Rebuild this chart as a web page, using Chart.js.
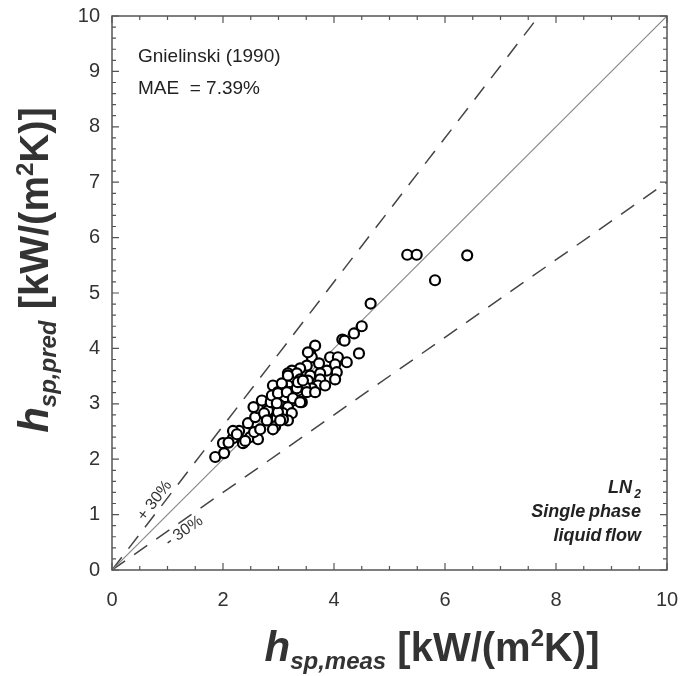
<!DOCTYPE html>
<html>
<head>
<meta charset="utf-8">
<script src="https://cdn.jsdelivr.net/npm/chart.js@4.4.1/dist/chart.umd.min.js"></script>
<style>
  body { margin: 0; background: #fff; }
  #grafico { display: block; }
</style>
</head>
<body>
<canvas id="grafico" width="696" height="676"></canvas>
<script>
// valores medidos (eixo x) e previstos (eixo y), kW/(m2K)
const hMedido = [
  5.32, 5.49, 6.40, 5.82, 4.66, 4.50, 4.36, 4.15, 4.19, 4.45,
  3.66, 3.57, 3.60, 3.93, 4.07, 4.23, 3.73, 4.02, 4.05, 4.02,
  3.87, 3.75, 3.75, 3.51, 3.39, 3.24, 3.17, 3.33, 3.57, 3.53,
  3.39, 3.71, 3.84, 3.60, 3.48, 3.33, 3.17, 3.06, 2.90, 2.99,
  3.21, 3.35, 3.51, 3.66, 2.94, 3.12, 3.26, 3.42, 2.85, 3.03,
  3.17, 2.76, 2.90, 3.08, 3.24, 2.79, 2.97, 3.17, 2.94, 1.86,
  2.02, 2.00, 2.18, 2.29, 2.18, 2.36, 2.49, 2.63, 2.56, 2.67,
  2.90, 2.45, 2.58, 2.63, 2.70, 2.55, 2.81, 2.86, 2.99, 3.08,
  3.03, 2.88, 2.99, 3.06, 3.15, 3.26, 3.39, 3.33, 3.35, 3.44,
  3.17, 2.74, 2.79, 2.97, 3.53, 2.10, 2.25, 2.40
];
const hPrevisto = [
  5.69, 5.69, 5.68, 5.23, 4.81, 4.40, 4.27, 4.16, 4.14, 3.91,
  4.05, 3.91, 3.84, 3.84, 3.84, 3.75, 3.73, 3.71, 3.57, 3.44,
  3.60, 3.55, 3.44, 3.69, 3.64, 3.60, 3.55, 3.55, 3.51, 3.42,
  3.44, 3.33, 3.33, 3.28, 3.30, 3.33, 3.33, 3.33, 3.33, 3.21,
  3.21, 3.24, 3.21, 3.21, 3.10, 3.12, 3.06, 3.03, 3.01, 2.97,
  2.94, 2.92, 2.88, 2.83, 2.83, 2.76, 2.74, 2.70, 2.59, 2.04,
  2.11, 2.29, 2.38, 2.51, 2.51, 2.29, 2.40, 2.36, 2.49, 2.54,
  2.54, 2.65, 2.76, 2.92, 3.06, 2.94, 2.88, 3.03, 2.85, 2.72,
  2.70, 3.15, 3.19, 3.37, 3.21, 3.10, 3.03, 3.28, 3.39, 3.42,
  3.51, 2.83, 2.70, 3.01, 3.93, 2.30, 2.45, 2.33
];

// retas de referência y = fator * x
const extremosX = [0, 10];
const fatorParidade = 1.0;
const fatorMais = 1.3;
const fatorMenos = 0.7;

const ticksX = [0, 2, 4, 6, 8, 10];
const ticksY = [0, 1, 2, 3, 4, 5, 6, 7, 8, 9, 10];

const fonte = "'Liberation Sans', Arial, sans-serif";

function reta(fator) {
  return extremosX.map((x) => ({ x: x, y: fator * x }));
}

function textoRico(ctx, partes, cx, cy, angulo) {
  ctx.save();
  ctx.translate(cx, cy);
  ctx.rotate(angulo);
  ctx.textBaseline = "alphabetic";
  ctx.textAlign = "left";
  let largura = 0;
  partes.forEach((p) => {
    ctx.font = p.font;
    largura += ctx.measureText(p.text).width;
  });
  let x = -largura / 2;
  partes.forEach((p) => {
    ctx.font = p.font;
    ctx.fillText(p.text, x, p.dy || 0);
    x += ctx.measureText(p.text).width;
  });
  ctx.restore();
}

function tituloEixo(sub) {
  return [
    { text: "h", font: "italic bold 42px " + fonte },
    { text: sub, font: "italic bold 24px " + fonte, dy: 8 },
    { text: " [kW/(m", font: "bold 40px " + fonte },
    { text: "2", font: "bold 24px " + fonte, dy: -15 },
    { text: "K)]", font: "bold 40px " + fonte },
  ];
}

const molduraPlugin = {
  id: "moldura",
  afterDraw(chart) {
    const ctx = chart.ctx;
    const area = chart.chartArea;
    const sx = chart.scales.x;
    const sy = chart.scales.y;

    ctx.save();
    ctx.strokeStyle = "#555";
    ctx.lineWidth = 1.5;
    ctx.strokeRect(area.left, area.top, area.right - area.left, area.bottom - area.top);

    ctx.lineWidth = 1.2;
    ctx.beginPath();
    for (let i = 0; i <= 20; i++) {
      const v = i * 0.5;
      const px = sx.getPixelForValue(v);
      const len = v % 2 === 0 ? 7 : 4;
      ctx.moveTo(px, area.bottom);
      ctx.lineTo(px, area.bottom - len);
      ctx.moveTo(px, area.top);
      ctx.lineTo(px, area.top + len);
    }
    for (let i = 0; i <= 50; i++) {
      const v = i * 0.2;
      const py = sy.getPixelForValue(v);
      const len = i % 5 === 0 ? 7 : 4;
      ctx.moveTo(area.left, py);
      ctx.lineTo(area.left + len, py);
      ctx.moveTo(area.right, py);
      ctx.lineTo(area.right - len, py);
    }
    ctx.stroke();

    // textos dentro do gráfico
    ctx.fillStyle = "#222";
    ctx.textBaseline = "alphabetic";
    ctx.textAlign = "left";
    ctx.font = "19px " + fonte;
    ctx.fillText("Gnielinski (1990)", area.left + 26, area.top + 46);
    ctx.fillText("MAE  = 7.39%", area.left + 26, area.top + 78);

    ctx.textAlign = "right";
    const direita = area.right - 26;
    ctx.font = "italic bold 18px " + fonte;
    ctx.fillText("LN", direita - 9, area.bottom - 77);
    ctx.font = "italic bold 12px " + fonte;
    ctx.fillText("2", direita, area.bottom - 72);
    ctx.font = "italic bold 18px " + fonte;
    ctx.fillText("Single\u2009phase", direita, area.bottom - 53);
    ctx.fillText("liquid\u2009flow", direita, area.bottom - 29);

    // rótulos das retas de ±30%
    ctx.fillStyle = "#333";
    ctx.textAlign = "center";
    ctx.textBaseline = "middle";
    ctx.font = "16px " + fonte;
    ctx.save();
    ctx.translate(sx.getPixelForValue(0.77), sy.getPixelForValue(1.25));
    ctx.rotate(-Math.atan(fatorMais));
    ctx.fillText("+ 30%", 0, 0);
    ctx.restore();
    ctx.save();
    ctx.translate(sx.getPixelForValue(1.3), sy.getPixelForValue(0.7));
    ctx.rotate(-Math.atan(fatorMenos));
    ctx.fillText("- 30%", 0, 0);
    ctx.restore();

    // títulos dos eixos
    ctx.fillStyle = "#333";
    textoRico(ctx, tituloEixo("sp,meas"), 432, 661, 0);
    textoRico(ctx, tituloEixo("sp,pred"), 48, 270, -Math.PI / 2);

    ctx.restore();
  },
};

function desenharGrafico() {
  const canvasContext = document.getElementById("grafico");
  const pontos = hMedido.map((x, i) => ({ x: x, y: hPrevisto[i] }));

  new Chart(canvasContext, {
    type: "scatter",
    data: {
      datasets: [
        {
          label: "Gnielinski (1990)",
          data: pontos,
          pointRadius: 5,
          pointBorderWidth: 2.2,
          borderColor: "#000",
          backgroundColor: "#fff",
          order: 0,
        },
        {
          type: "line",
          data: reta(fatorParidade),
          borderColor: "#888",
          borderWidth: 1.2,
          pointRadius: 0,
          order: 2,
        },
        {
          type: "line",
          data: reta(fatorMais),
          borderColor: "#444",
          borderWidth: 1.5,
          borderDash: [16, 11],
          pointRadius: 0,
          order: 2,
        },
        {
          type: "line",
          data: reta(fatorMenos),
          borderColor: "#444",
          borderWidth: 1.5,
          borderDash: [16, 11],
          pointRadius: 0,
          order: 2,
        },
      ],
    },
    options: {
      responsive: false,
      animation: false,
      devicePixelRatio: 1,
      layout: { padding: { left: 0, top: 15, right: 29, bottom: 0 } },
      plugins: { legend: { display: false }, tooltip: { enabled: false } },
      scales: {
        x: {
          type: "linear",
          min: 0,
          max: 10,
          afterBuildTicks: (scale) => {
            scale.ticks = ticksX.map((v) => ({ value: v }));
          },
          afterFit: (scale) => {
            scale.height = 106;
          },
          grid: { display: false },
          border: { display: false },
          ticks: { color: "#333", font: { size: 20, family: fonte }, padding: 10 },
        },
        y: {
          type: "linear",
          min: 0,
          max: 10,
          afterBuildTicks: (scale) => {
            scale.ticks = ticksY.map((v) => ({ value: v }));
          },
          afterFit: (scale) => {
            scale.width = 112;
          },
          grid: { display: false },
          border: { display: false },
          ticks: { color: "#333", font: { size: 20, family: fonte }, padding: 4 },
        },
      },
    },
    plugins: [molduraPlugin],
  });
}

document.addEventListener("DOMContentLoaded", () => {
  desenharGrafico();
});
</script>
</body>
</html>
